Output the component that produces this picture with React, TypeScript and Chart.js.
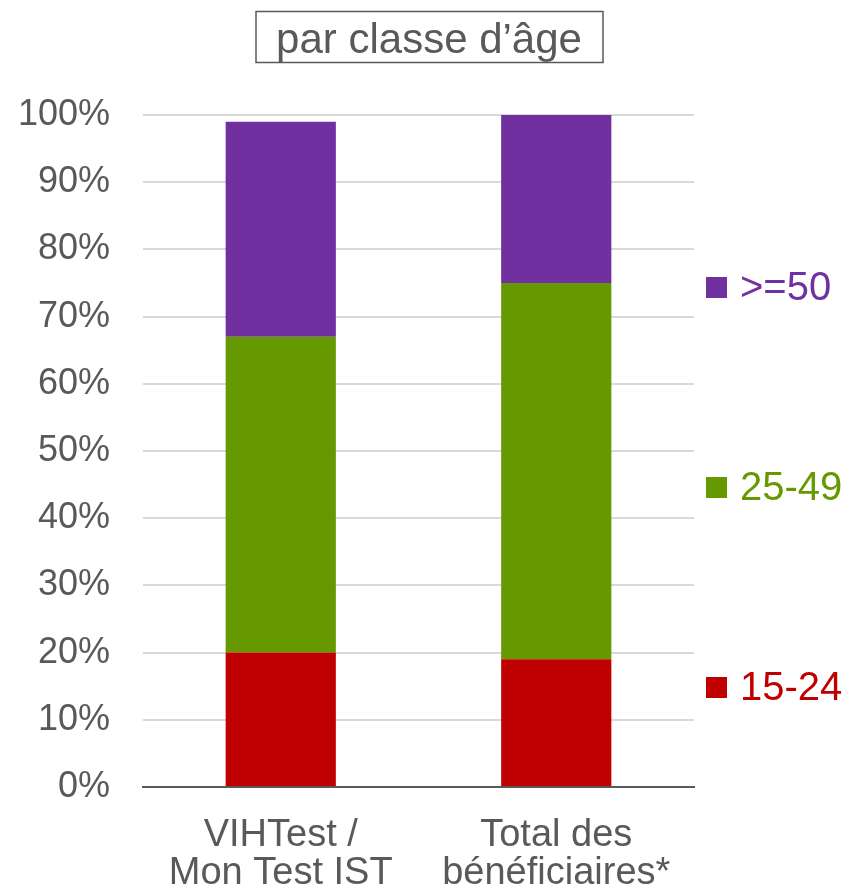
import React, { useEffect, useRef } from "react";
import { Chart, registerables } from "chart.js";

Chart.register(...registerables);

const categories: string[][] = [
  ["VIHTest /", "Mon Test IST"],
  ["Total des", "bénéficiaires*"],
];
const seriesNames = ["15-24", "25-49", ">=50"];
const values1524 = [20, 19];
const values2549 = [47, 56];
const values50 = [32, 25];
const seriesColors = ["#C00000", "#669900", "#7030A0"];
const titleText = "par classe d’âge";
const yTicks = [0, 10, 20, 30, 40, 50, 60, 70, 80, 90, 100];

const FONT = "'Liberation Sans', Arial, sans-serif";
const TEXT = "#595959";

const decorPlugin = {
  id: "decor",
  afterDraw(chart: any) {
    const ctx = chart.ctx;
    ctx.save();
    ctx.font = `42px ${FONT}`;
    ctx.fillStyle = TEXT;
    ctx.textAlign = "center";
    ctx.textBaseline = "alphabetic";
    ctx.fillText(titleText, 429, 53);
    ctx.strokeStyle = TEXT;
    ctx.lineWidth = 1.5;
    ctx.strokeRect(256, 11.5, 347, 51);
    const ys = [687, 487, 287];
    seriesNames.forEach((name, i) => {
      const y = ys[i];
      ctx.fillStyle = seriesColors[i];
      ctx.fillRect(706, y - 10, 21, 21);
      ctx.font = `40px ${FONT}`;
      ctx.textAlign = "left";
      ctx.textBaseline = "middle";
      ctx.fillText(name, 740, y + 2);
    });
    ctx.restore();
  },
};

export default function App() {
  const ref = useRef<HTMLCanvasElement>(null);
  useEffect(() => {
    const seriesData = [values1524, values2549, values50];
    const chart = new Chart(ref.current!, {
      type: "bar",
      data: {
        labels: categories,
        datasets: seriesNames.map((n, i) => ({
          label: n,
          data: seriesData[i],
          backgroundColor: seriesColors[i],
          borderWidth: 0,
          barPercentage: 0.4,
          categoryPercentage: 1,
        })),
      },
      options: {
        animation: false,
        responsive: false,
        maintainAspectRatio: false,
        layout: { padding: { top: 115, right: 158, bottom: 0, left: 0 } },
        plugins: {
          legend: { display: false },
          title: { display: false },
          tooltip: { enabled: false },
        },
        scales: {
          x: {
            stacked: true,
            grid: { display: false, drawTicks: false },
            border: { display: true, color: "#595959", width: 2 },
            ticks: {
              color: TEXT,
              font: { family: FONT, size: 38, lineHeight: 1.0 },
              padding: 30,
              maxRotation: 0,
              autoSkip: false,
            },
            afterFit: (s: any) => {
              s.height = 103;
            },
          },
          y: {
            stacked: true,
            min: 0,
            max: 100,
            afterBuildTicks: (s: any) => {
              s.ticks = yTicks.map((v) => ({ value: v }));
            },
            grid: { color: "#D9D9D9", lineWidth: 2, drawTicks: false },
            border: { display: false },
            ticks: {
              color: TEXT,
              font: { family: FONT, size: 36 },
              padding: 33,
              callback: (v: any) => `${v}%`,
            },
            afterFit: (s: any) => {
              s.width = 143;
            },
          },
        },
      },
      plugins: [decorPlugin],
    });
    return () => chart.destroy();
  }, []);
  return (
    <div style={{ position: "fixed", left: 0, top: 0, width: 852, height: 890, background: "#fff" }}>
      <canvas ref={ref} width={852} height={890} style={{ display: "block" }} />
    </div>
  );
}
